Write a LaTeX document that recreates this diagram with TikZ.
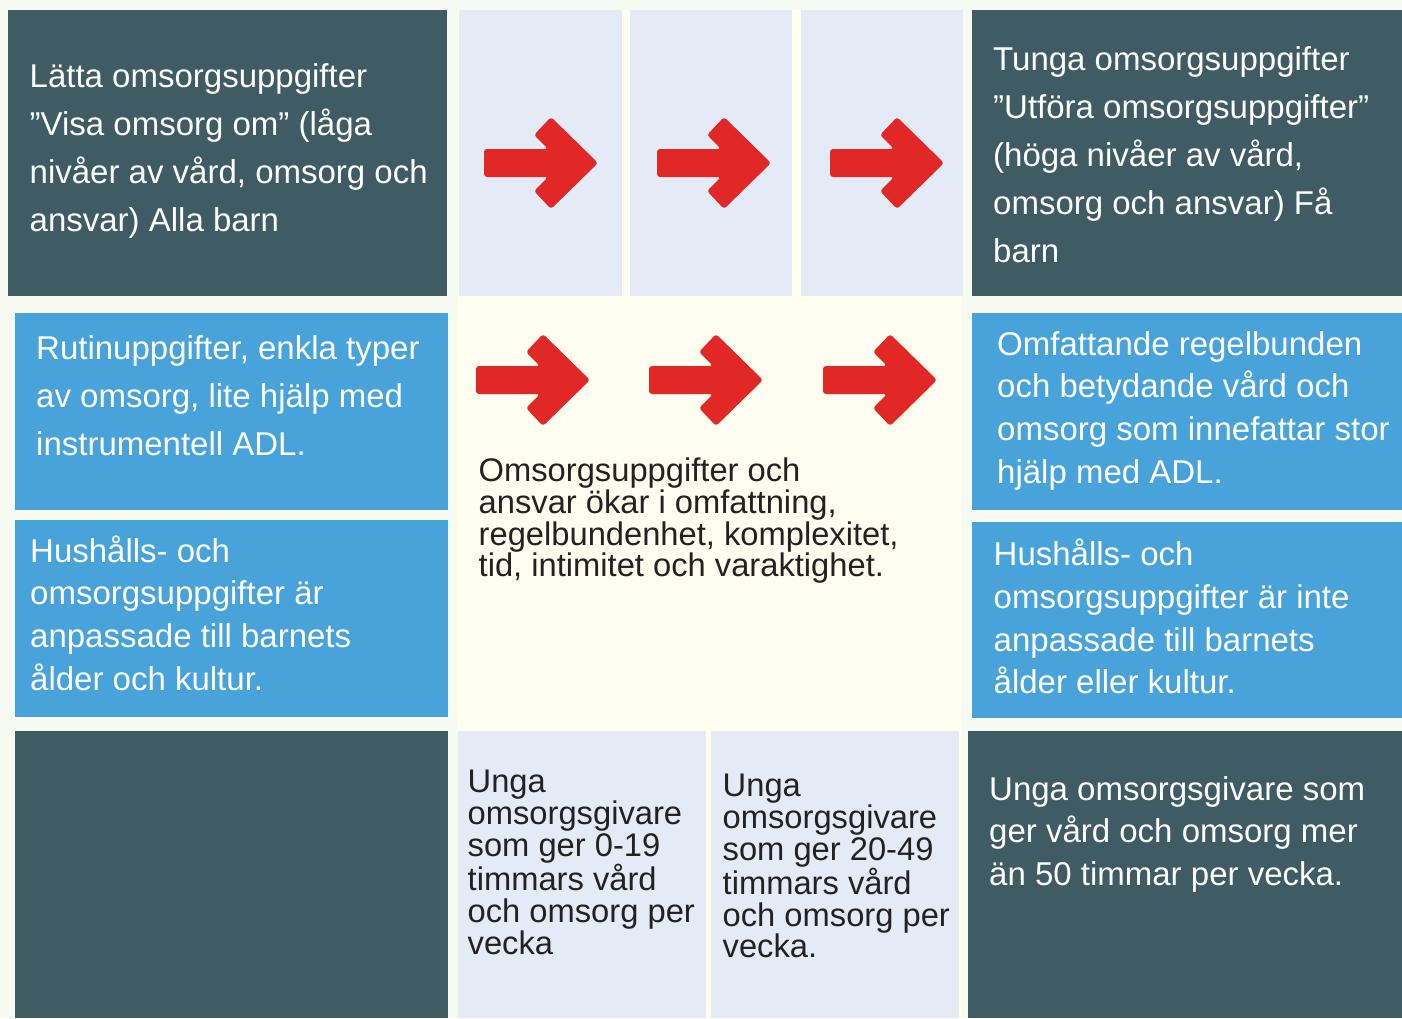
\documentclass[tikz,border=0pt]{standalone}
\usepackage{fontspec}
\setmainfont{Liberation Sans}

\definecolor{slate}{HTML}{3F5C64}
\definecolor{sky}{HTML}{47A3D9}
\definecolor{lavender}{HTML}{E4EAF6}
\definecolor{cream}{HTML}{FFFEF0}
\definecolor{paper}{HTML}{F7FAF1}
\definecolor{arrowred}{HTML}{E22727}
\definecolor{ink}{HTML}{222222}

\newcommand{\capstrut}{\rule{0pt}{26pt}}

\tikzstyle{dark box}=[fill=slate]
\tikzstyle{blue box}=[fill=sky]
\tikzstyle{pale box}=[fill=lavender]
\tikzstyle{red arrow}=[fill=arrowred, rounded corners=3pt]
\tikzstyle{box text}=[anchor=north west, inner sep=0pt, align=left]
\tikzstyle{roomy text}=[box text, text=white, font=\fontsize{33}{48}\selectfont]
\tikzstyle{snug text}=[box text, text=white, font=\fontsize{33}{42.6}\selectfont]
\tikzstyle{tight text}=[box text, text=ink, font=\fontsize{32.7}{31.9}\selectfont]

\begin{document}
\begin{tikzpicture}[x=1pt,y=-1pt]
    \useasboundingbox[fill=paper] (0,0) rectangle (1402,1018);
    \fill[cream] (458,10) rectangle (962,1018);
    % boxes
    \foreach \a/\b in {{(8,10)/(447,296)}, {(972,10)/(1402,296)},
                       {(15,731)/(448,1018)}, {(968,731)/(1402,1018)}}
        \path[dark box] \a rectangle \b;
    \foreach \a/\b in {{(15,313)/(448,510)}, {(15,520)/(448,717)},
                       {(972,313)/(1402,510)}, {(972,522)/(1402,718)}}
        \path[blue box] \a rectangle \b;
    \foreach \a/\b in {{(459,10)/(622,296)}, {(630,10)/(792,296)}, {(801,10)/(963,296)},
                       {(458,731)/(706,1018)}, {(711,731)/(959,1018)}}
        \path[pale box] \a rectangle \b;
    % arrows
    \foreach \pos in {(484,163), (657,163), (830,163), (476,380), (649,380), (823,380)}
        \fill[red arrow, shift={\pos}] (0,-14) -- (64,-14) -- (50,-28) -- (67,-46) -- (114,0)
            -- (67,46) -- (50,28) -- (64,14) -- (0,14) -- cycle;
    % texts
    \node[roomy text] (light) at (29.5,61) {\capstrut Lätta omsorgsuppgifter\\”Visa omsorg om” (låga\\nivåer av vård, omsorg och\\ansvar) Alla barn};
    \node[roomy text] (heavy) at (993,44) {\capstrut Tunga omsorgsuppgifter\\”Utföra omsorgsuppgifter”\\(höga nivåer av vård,\\omsorg och ansvar) Få\\barn};
    \node[roomy text] (routine) at (36,333) {\capstrut Rutinuppgifter, enkla typer\\av omsorg, lite hjälp med\\instrumentell ADL.};
    \node[snug text] (fitting) at (30,535.5) {\capstrut Hushålls- och\\omsorgsuppgifter är\\anpassade till barnets\\ålder och kultur.};
    \node[snug text] (extensive) at (997,329) {\capstrut Omfattande regelbunden\\och betydande vård och\\omsorg som innefattar stor\\hjälp med ADL.};
    \node[snug text] (unfitting) at (993.5,539) {\capstrut Hushålls- och\\omsorgsuppgifter är inte\\anpassade till barnets\\ålder eller kultur.};
    \node[snug text] (over50) at (989,774) {\capstrut Unga omsorgsgivare som\\ger vård och omsorg mer\\än 50 timmar per vecka.};
    \node[tight text] (increase) at (478.5,455) {\capstrut Omsorgsuppgifter och\\ansvar ökar i omfattning,\\regelbundenhet, komplexitet,\\tid, intimitet och varaktighet.};
    \node[tight text] (upto19) at (467.5,766.7) {\capstrut Unga\\omsorgsgivare\\som ger 0-19\\timmars vård\\och omsorg per\\vecka};
    \node[tight text] (upto49) at (722.5,770) {\capstrut Unga\\omsorgsgivare\\som ger 20-49\\timmars vård\\och omsorg per\\vecka.};
\end{tikzpicture}
\end{document}
